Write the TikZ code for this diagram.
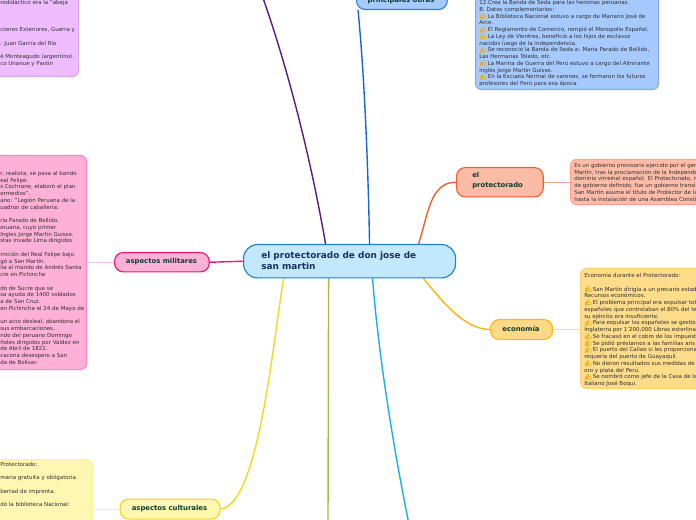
\documentclass[tikz,border=0pt]{standalone}
\usepackage{fontspec}
\setmainfont{DejaVu Sans}
\newfontfamily\emofont[FakeBold=2.5]{Noto Emoji}
\usetikzlibrary{calc,backgrounds}
\definecolor{handc}{HTML}{EBB020}
\definecolor{smalltxt}{HTML}{303030}
\definecolor{labeltxt}{HTML}{0A3D33}
\definecolor{centraltext}{HTML}{1B3060}
\definecolor{centralline}{HTML}{2080C8}\definecolor{centralfill}{HTML}{C2E8FD}
\definecolor{purpleedge}{HTML}{D9A6EE}\definecolor{purplefill}{HTML}{EFBDFF}
\definecolor{pinkedge}{HTML}{FF86C4}\definecolor{pinkfill}{HTML}{FFB0D6}
\definecolor{yellowedge}{HTML}{FFEE9A}\definecolor{yellowfill}{HTML}{FFF6B2}
\definecolor{blueedge}{HTML}{7FA8EE}\definecolor{bluefill}{HTML}{A6CAFF}
\definecolor{salmonedge}{HTML}{FFA38E}\definecolor{salmonfill}{HTML}{FFBDA9}
\definecolor{orangeedge}{HTML}{FFD070}\definecolor{orangefill}{HTML}{FFDC8A}
\definecolor{pinklink}{HTML}{FFC4DF}
\definecolor{obrasline}{HTML}{2F80E0}
\definecolor{protoline}{HTML}{F0602A}\definecolor{protofill}{HTML}{FBBCA6}
\definecolor{milline}{HTML}{E8186E}
\definecolor{ecoline}{HTML}{FDB813}\definecolor{ecofill}{HTML}{FFD988}
\definecolor{culline}{HTML}{F2D816}\definecolor{culfill}{HTML}{FFF6B0}
\definecolor{purpleline}{HTML}{5A1A80}
\definecolor{blueline}{HTML}{1565D8}
\definecolor{greenline}{HTML}{A0C030}
\definecolor{skyline}{HTML}{18AEF0}
\definecolor{amberline}{HTML}{FFB400}
\newcommand{\hand}{\makebox[6.4pt][l]{\smash{\textcolor{handc}{\emofont\fontsize{4.7pt}{5pt}\selectfont ✍}}}}
\tikzset{
  x=0.75pt,y=-0.75pt,
  txt/.style={anchor=north west,inner sep=0pt,align=left,text=smalltxt,font=\fontsize{4.13pt}{5.06pt}\selectfont},
  panel/.style={draw=#1,line width=0.8pt,rounded corners=4.5pt,inner sep=0pt,anchor=north west},
  topic/.style={draw=#1,line width=0.85pt,rounded corners=6.5pt,inner sep=0pt,anchor=north west},
  topictxt/.style={inner sep=0pt,align=left,text=labeltxt,font=\bfseries\fontsize{5.15pt}{6.85pt}\selectfont},
  conn/.style={line width=#1,line cap=round},
  conn/.default=1.05pt
}
\newcommand{\panelat}[6]{\node[panel=#5,fill=#6,minimum width=#3*0.75pt,minimum height=#4*0.75pt] (#1) at (#2) {};}
\begin{document}
\begin{tikzpicture}
\useasboundingbox (0,0) rectangle (696,520);
\clip (0,0) rectangle (696,520);
% central
\node[draw=centralline,fill=centralfill,line width=0.85pt,rounded corners=10.5pt,minimum width=159pt,minimum height=25pt,inner sep=0pt,anchor=north west] (central) at (243,244) {};
\node[anchor=north west,inner sep=0pt,align=left,text=centraltext,font=\bfseries\fontsize{6.7pt}{8.2pt}\selectfont] (centraltxt) at (261,251.2) {el protectorado de don jose de\\san martin};
% panels
\panelat{purplebox}{-20,-30}{98}{106}{purpleedge}{purplefill}
\panelat{pinkbox}{-20,155}{106}{214}{pinkedge}{pinkfill}
\panelat{yellowbox}{-20,459}{112}{90}{yellowedge}{yellowfill}
\panelat{bluebox}{475,-30}{183}{119}{blueedge}{bluefill}
\panelat{salmonbox}{570,159}{160}{45}{salmonedge}{salmonfill}
\panelat{orangebox}{580,268}{150}{120}{orangeedge}{orangefill}
% topics
\node[topic=obrasline,fill=bluefill,minimum width=68pt,minimum height=21pt] (obras) at (356,-19) {};
\node[topictxt] (obrastxt) at (401,1) {principales obras};
\node[topic=protoline,fill=protofill,minimum width=65pt,minimum height=22pt] (proto) at (456,167) {};
\node[topictxt,anchor=north west] (prototxt) at (472,172.5) {el\\protectorado};
\node[topic=milline,fill=pinkfill,minimum width=71pt,minimum height=14.5pt] (mil) at (114,252) {};
\node[topictxt] (miltxt) at (161.5,261.5) {aspectos militares};
\node[topic=ecoline,fill=ecofill,minimum width=46.5pt,minimum height=15pt] (eco) at (490,319) {};
\node[topictxt] (ecotxt) at (521,329) {economía};
\node[topic=culline,fill=culfill,minimum width=75pt,minimum height=15pt] (cul) at (119.5,498.5) {};
\node[topictxt] (cultxt) at (169.5,508.5) {aspectos culturales};
% free ends
\coordinate (purpleend) at (263,-2);
\coordinate (greenend) at (328,522);
\coordinate (skyend) at (408.5,522);
% connectors
\begin{scope}[on background layer]
\draw[conn,draw=purpleline] ($(central.north)+(-24,0)$) .. controls (312,165) and (290,75) .. (purpleend);
\draw[conn,draw=blueline] ($(central.north)+(20,0)$) .. controls (368,160) and (364,70) .. ($(obras.south west)+(2,0)$);
\draw[conn,draw=protoline] ($(central.north)+(69,0)$) .. controls (428,215) and (430,182) .. (proto.west);
\draw[conn,draw=milline] (central.west) -- (mil.east);
\draw[conn,draw=culline] ($(central.south)+(-66,0)$) .. controls (272,350) and (258,505) .. (cul.east);
\draw[conn,draw=greenline] ($(central.south)+(-21,0)$) -- (greenend);
\draw[conn,draw=skyline] ($(central.south)+(23,0)$) .. controls (378,350) and (392,440) .. (skyend);
\draw[conn,draw=amberline] ($(central.south)+(74,0)$) .. controls (445,305) and (465,329) .. (eco.west);
\draw[conn=0.8pt,draw=salmonedge] (proto.east) -- (salmonbox.west|-proto.east);
\draw[conn=0.8pt,draw=pinklink] (mil.west) -- (pinkbox.east|-mil.west);
\draw[conn=0.8pt,draw=orangefill] (eco.east) -- (orangebox.west|-eco.east);
\draw[conn=0.8pt,draw=yellowedge] (cul.west) -- (yellowbox.east|-cul.west);
\end{scope}
% panel text
\node[txt] (purpletxt) at (0,0) {rodidáctico era la "abeja\\~\\~\\~\\ciones Exteriores, Guerra y\\~\\: Juan García del Río\\~\\é Monteagudo (argentino).\\co Unanue y Pavón};
\node[txt] (pinktxt) at (0,171) {r, realista, se pasa al bando\\eal Felipe.\\s Cochrane, elaboró el plan\\ermedios".\\ano: "Legión Peruana de la\\uadron de caballería:\\~\\ría Parado de Bellido.\\eruana, cuyo primer\\Ingles Jorge Martín Guisse.\\stas invade Lima dirigidos\\~\\rnición del Real Felipe bajo\\gó a San Martín.\\lia al mando de Andrés Santa\\cre en Pichincha\\~\\do de Sucre que se\\sa ayuda de 1400 soldados\\a de San Cruz.\\en Pichincha el 24 de Mayo de\\~\\un acto desleal, abandona el\\sus embarcaciones.\\ndo del peruano Domingo\\ñoles dirigidos por Valdez en\\de Abril de 1822.\\cacona desespero a San\\da de Bolívar.};
\node[txt] (yellowtxt) at (0,462) {Protectorado:\\~\\maria gratuita y obligatoria.\\~\\bertad de imprenta.\\~\\dó la biblioteca Nacional:};
\node[txt] (bluetxt) at (479,0) {12.Crea la Banda de Seda para las heroínas peruanas.\\B. Datos complementarios:\\\hand La Biblioteca Nacional estuvo a cargo de Mariano José de\\Arce.\\\hand El Reglamento de Comercio, rompió el Monopolio Español.\\\hand La Ley de Vientres, benefició a los hijos de esclavos\\nacidos luego de la independencia.\\\hand Se reconoció la Banda de Seda a: María Parado de Bellido,\\Las Hermanas Toledo, etc.\\\hand La Marina de Guerra del Perú estuvo a cargo del Almirante\\inglés Jorge Martin Guisse.\\\hand En la Escuela Normal de varones, se formaron los futuros\\profesores del Perú para esa época.};
\node[txt] (salmontxt) at (574,163) {Es un gobierno provisorio ejercido por el gen\\Martín, tras la proclamación de la Independe\\dominio virreinal español. El Protectorado, m\\de gobierno definido, fue un gobierno transit\\San Martín asume el título de Protector de la\\hasta la instalación de una Asamblea Consti};
\node[txt] (orangetxt) at (584,273) {Economía durante el Protectorado:\\~\\\hand San Martín dirigía a un precario estad\\Recursos económicos.\\\hand El problema principal era expulsar tot\\españoles que controlaban el 80\% del te\\su ejército era insuficiente.\\\hand Para expulsar los españoles se gestio\\Inglaterra por 1'200,000 Libras esterlina\\\hand Se fracasó en el cobro de los impuest\\\hand Se pidió préstamos a las familias aris\\\hand El puerto del Callao si les proporciona\\requería del puerto de Guayaquil.\\\hand No dieron resultados sus medidas de\\oro y plata del Perú.\\\hand Se nombró como jefe de la Casa de la\\Italiano José Boqui.};
\end{tikzpicture}
\end{document}
